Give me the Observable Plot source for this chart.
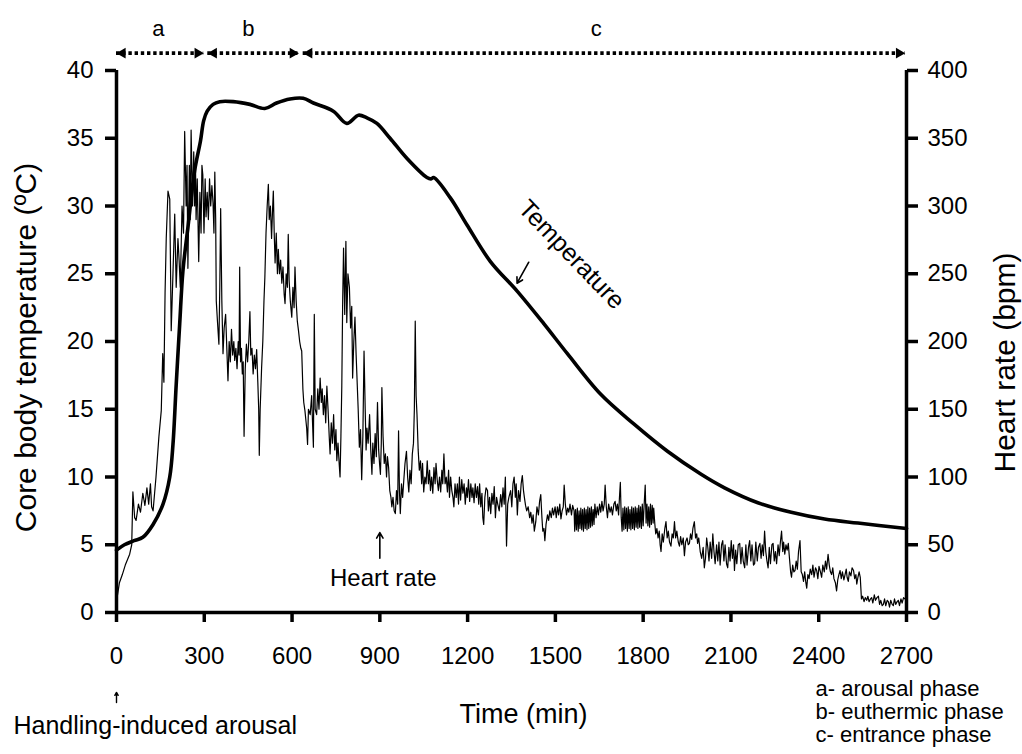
<!DOCTYPE html>
<html>
<head>
<meta charset="utf-8">
<script src="https://cdn.jsdelivr.net/npm/d3@7"></script>
<script src="https://cdn.jsdelivr.net/npm/@observablehq/plot@0.6"></script>
<style>
  html, body { margin: 0; padding: 0; background: #fff; }
  #chart svg { display: block; }
</style>
</head>
<body>
<div id="chart"></div>
<script>
// ---- Data ----
// Core body temperature (°C) vs time (min)
const tempTime = [0, 27, 60, 90, 125, 159, 182, 193, 204, 216, 227, 244, 267, 287, 298, 310, 330, 353, 399, 456, 507, 547, 593, 638, 673, 741, 787, 827, 856, 890, 935, 993, 1061, 1075, 1084, 1141, 1198, 1278, 1370, 1461, 1541, 1655, 1769, 1883, 1998, 2078, 2192, 2306, 2420, 2534, 2700];
const tempC = [4.6, 5.0, 5.3, 5.55, 6.5, 8.0, 10.0, 12.4, 16.8, 21.3, 25.2, 28.4, 32.6, 34.8, 36.3, 37.0, 37.5, 37.7, 37.7, 37.5, 37.2, 37.6, 37.9, 37.95, 37.6, 37.0, 36.1, 36.7, 36.5, 36.1, 35.0, 33.5, 32.1, 32.0, 32.1, 30.6, 28.6, 25.9, 23.7, 21.3, 19.1, 16.1, 13.9, 11.9, 10.2, 9.2, 8.1, 7.4, 6.9, 6.6, 6.2];

// Heart rate (bpm) vs time (min)
const hrTime = [0,10,20,30,45,52,56,62,67,75,82,90,97,104,110,116,120,125,135,145,153,158,162,166,170,176,182,187,193,199,204,210,214,218,224,229,233,238,241,244,249,252,255,260,264,267,270,272,276,281,285,289,292,295,299,303,306,310,314,318,322,326,330,333,336,339,341,345,350,353,356,360,364,368,373,377,381,385,389,393,397,401,404,408,412,416,419,421,424,427,430,433,436,440,444,448,452,456,459,463,467,471,475,479,483,486,488,491,496,500,504,507,511,515,519,522,526,530,533,536,539,542,546,550,553,557,561,565,569,573,576,580,584,587,590,594,599,603,607,610,614,618,622,626,630,633,637,640,644,650,653,656,662,667,670,673,676,679,684,688,692,696,700,703,707,711,715,719,723,727,730,734,738,742,746,750,753,757,761,764,767,770,773,776,780,784,787,791,796,800,804,807,811,815,819,823,826,830,834,838,842,846,850,853,856,860,865,869,873,876,880,884,888,892,896,899,902,905,907,911,915,919,923,926,930,934,938,941,945,949,953,957,961,964,967,970,974,978,982,986,991,995,999,1003,1007,1011,1015,1018,1021,1024,1027,1031,1035,1039,1043,1046,1050,1054,1058,1062,1066,1070,1073,1077,1081,1085,1089,1092,1096,1100,1104,1108,1112,1115,1119,1123,1127,1131,1135,1138,1142,1146,1150,1153,1157,1161,1165,1169,1172,1176,1180,1184,1188,1192,1196,1199,1203,1207,1211,1215,1218,1222,1226,1230,1234,1238,1241,1245,1249,1252,1255,1259,1263,1268,1271,1275,1279,1283,1287,1291,1295,1299,1303,1308,1313,1317,1321,1325,1329,1333,1337,1341,1347,1351,1355,1359,1363,1366,1370,1374,1379,1383,1387,1391,1394,1398,1402,1407,1412,1416,1420,1424,1428,1433,1437,1442,1446,1450,1454,1457,1461,1464,1468,1473,1477,1481,1486,1490,1494,1499,1503,1507,1511,1515,1519,1523,1527,1530,1534,1538,1542,1546,1550,1555,1559,1564,1566,1569,1572,1575,1578,1581,1584,1587,1590,1593,1596,1599,1602,1605,1608,1611,1614,1617,1620,1623,1626,1629,1632,1635,1639,1643,1647,1651,1655,1659,1663,1667,1670,1674,1678,1682,1687,1691,1695,1700,1704,1708,1712,1716,1719,1722,1725,1728,1731,1734,1737,1740,1743,1746,1749,1752,1755,1758,1761,1764,1767,1770,1773,1776,1779,1782,1785,1788,1791,1794,1797,1800,1803,1807,1810,1813,1816,1819,1822,1825,1828,1831,1834,1836,1840,1843,1847,1851,1855,1858,1861,1865,1869,1874,1878,1882,1886,1890,1895,1899,1903,1907,1911,1915,1920,1924,1928,1932,1937,1941,1945,1950,1954,1958,1962,1966,1970,1975,1979,1983,1986,1990,1995,2000,2005,2009,2013,2017,2021,2025,2029,2034,2038,2042,2046,2051,2055,2059,2063,2068,2072,2076,2080,2085,2089,2093,2097,2101,2105,2109,2112,2116,2120,2125,2130,2134,2138,2142,2147,2151,2155,2160,2164,2168,2172,2177,2181,2185,2190,2194,2199,2203,2207,2211,2215,2219,2223,2227,2231,2235,2240,2244,2248,2252,2256,2261,2265,2269,2273,2277,2280,2284,2288,2292,2296,2300,2304,2307,2311,2315,2319,2323,2327,2331,2336,2340,2344,2348,2352,2356,2359,2363,2367,2371,2376,2380,2384,2389,2393,2397,2401,2406,2410,2414,2419,2423,2427,2432,2436,2440,2444,2448,2452,2457,2461,2465,2469,2473,2477,2481,2486,2490,2494,2497,2501,2505,2510,2514,2519,2523,2527,2530,2534,2538,2542,2544,2546,2550,2555,2559,2564,2568,2572,2577,2581,2585,2590,2594,2599,2604,2608,2612,2617,2621,2625,2629,2634,2638,2642,2646,2651,2655,2659,2663,2668,2672,2676,2681,2685,2690,2695,2700];
const hrBpm = [8,22,28,35,43,50,89,70,68,80,74,88,79,92,80,95,78,75,100,130,149,191,170,236,276,311,305,208,250,294,240,276,260,240,300,280,355,300,330,254,330,290,356,300,340,300,330,290,320,259,310,280,330,323,280,320,292,310,290,320,300,315,302,280,325,290,230,215,198,240,298,230,191,210,220,195,171,200,185,209,190,200,186,195,180,200,190,255,185,195,176,185,130,180,198,185,200,222,190,195,176,190,180,194,170,150,116,150,181,200,230,247,280,300,316,290,300,276,295,311,280,258,280,250,268,250,260,243,255,235,228,250,240,279,245,230,218,240,225,255,230,215,208,200,195,193,165,155,149,136,124,150,146,160,140,122,220,150,146,165,150,173,155,165,146,160,140,167,150,130,117,140,125,146,120,135,112,125,110,100,130,167,230,269,220,274,214,250,240,210,226,173,200,218,190,167,150,122,135,98,130,193,150,120,136,125,146,120,102,125,110,132,115,155,120,110,102,125,166,130,110,117,100,115,107,90,85,78,85,75,73,90,80,134,90,73,95,85,98,110,119,100,89,105,95,117,125,150,215,160,146,120,105,112,95,110,89,100,95,112,95,105,90,100,88,107,95,110,98,90,100,89,105,95,117,95,100,89,105,85,100,90,85,78,95,85,95,80,100,83,98,88,95,80,92,85,98,82,95,85,92,81,95,85,93,80,95,78,88,70,65,85,92,90,75,85,73,88,80,93,70,85,80,75,87,78,92,80,100,49,80,85,90,78,95,100,85,95,72,90,82,95,101,90,85,79,75,78,70,74,66,72,60,67,78,72,82,87,70,60,62,53,65,72,68,75,70,77,72,78,70,78,72,80,69,75,78,94,80,72,77,74,80,72,79,75,60,76,61,77,60,75,62,77,61,76,60,77,62,76,61,78,62,77,63,78,64,76,65,80,70,78,72,80,74,82,75,80,94,78,70,80,74,78,72,80,82,75,80,72,85,96,70,60,77,61,78,62,77,60,78,62,76,61,78,62,77,61,78,63,77,62,79,63,78,62,80,64,78,94,66,80,64,78,63,80,65,79,66,77,65,58,62,55,60,50,45,58,52,62,67,55,60,52,49,58,55,67,55,60,52,49,56,50,55,42,52,55,50,51,58,54,62,67,55,58,51,55,45,40,48,33,40,55,48,38,52,40,58,45,36,50,38,52,35,50,53,38,50,36,33,48,38,53,40,50,31,46,36,50,51,36,48,38,33,50,35,48,53,38,50,35,36,52,38,48,51,40,50,42,60,45,38,33,48,36,50,51,38,45,36,50,42,52,60,45,52,43,50,46,51,40,30,26,35,30,31,38,32,45,53,30,28,23,30,22,18,28,25,32,28,35,26,33,31,25,34,30,26,35,30,38,32,43,35,30,28,33,25,22,16,24,28,31,25,30,24,28,32,26,23,30,27,33,31,25,28,21,26,30,26,18,10,12,8,11,9,12,8,10,11,7,13,9,11,12,6,9,5,6,10,5,9,8,4,9,6,5,10,6,8,9,5,10,7,11,10,12];

// Phases (a, b, c) shown as dotted double arrows above the plot
const phaseName = ["a", "b", "c"];
const phaseStart = [0, 312, 638];
const phaseEnd = [298, 623, 2695];
const phaseLabelX = [143, 451, 1640];

// Axis ticks
const xTicks = [0, 300, 600, 900, 1200, 1500, 1800, 2100, 2400, 2700];
const yTicks = [0, 5, 10, 15, 20, 25, 30, 35, 40];   // °C (right axis = ×10 bpm)

const legendLines = ["a- arousal phase", "b- euthermic phase", "c- entrance phase"];

// ---- Build tables ----
const temp = tempTime.map((t, i) => ({t, c: tempC[i]}));
const hr = hrTime.map((t, i) => ({t, bpm: hrBpm[i]}));
const phases = phaseName.map((name, i) => ({name, start: phaseStart[i], end: phaseEnd[i], lx: phaseLabelX[i]}));

const FONT = "'Liberation Sans', Arial, Helvetica, sans-serif";

const chart = Plot.plot({
  width: 1022,
  height: 754,
  marginLeft: 116,
  marginRight: 116,
  marginTop: 70,
  marginBottom: 142,
  style: {fontFamily: FONT, color: "black", background: "white", overflow: "visible"},
  x: {domain: [0, 2700]},
  y: {domain: [0, 40]},
  marks: [
    // heart rate (plotted on the °C scale: bpm / 10)
    Plot.line(hr, {x: "t", y: d => d.bpm / 10, stroke: "black", strokeWidth: 1.2}),
    // temperature
    Plot.line(temp, {x: "t", y: "c", stroke: "black", strokeWidth: 3.6, curve: "catmull-rom"}),

    // axes
    Plot.axisX({ticks: xTicks, tickFormat: d => String(d), tickSize: 10, tickPadding: 24, fontSize: 24, strokeWidth: 3.5, label: null}),
    Plot.axisY({anchor: "left", ticks: yTicks, tickFormat: d => String(d), tickSize: 11, tickPadding: 12, fontSize: 24, strokeWidth: 3.5, label: null}),
    Plot.axisY({anchor: "right", ticks: yTicks, tickFormat: d => String(d * 10), tickSize: 11, tickPadding: 10, fontSize: 24, strokeWidth: 3.5, label: null}),
    Plot.ruleX([0, 2700], {y1: 0, y2: 40, strokeWidth: 3.5}),
    Plot.ruleY([0], {x1: 0, x2: 2700, strokeWidth: 3.5}),

    // axis titles
    Plot.text(["Core body temperature (ºC)"], {frameAnchor: "left", textAnchor: "middle", dx: -90, dy: 6, rotate: -90, fontSize: 30}),
    Plot.text(["Heart rate (bpm)"], {frameAnchor: "right", textAnchor: "middle", dx: 99, dy: 21, rotate: -90, fontSize: 30}),
    Plot.text(["Time (min)"], {frameAnchor: "bottom", textAnchor: "middle", dx: 12, dy: 110, fontSize: 27}),

    // phase arrows
    Plot.ruleY(phases, {y: 41.28, x1: "start", x2: "end", strokeWidth: 3.6, strokeDasharray: "3.4,2.8"}),
    Plot.dot(phases, {x: "end", y: 41.28, symbol: "triangle", r: 4, rotate: 90, dx: -6, fill: "black", stroke: "none"}),
    Plot.dot(phases, {x: "start", y: 41.28, symbol: "triangle", r: 4, rotate: -90, dx: 6, fill: "black", stroke: "none"}),
    Plot.text(phases, {x: "lx", y: 43.1, text: "name", fontSize: 22}),

    // annotations
    Plot.text(["Temperature"], {x: 1555, y: 26.4, rotate: 46, fontSize: 25}),
    Plot.arrow([0], {x1: 1409, y1: 25.85, x2: 1369, y2: 24.3, strokeWidth: 1.6, headLength: 6, stroke: "black"}),
    Plot.text(["Heart rate"], {x: 912, y: 2.5, fontSize: 24}),
    Plot.arrow([0], {x1: 900, y1: 4.0, x2: 900, y2: 5.9, strokeWidth: 1.6, headLength: 6, stroke: "black"}),
    Plot.arrow([0], {x1: 0, y1: -6.64, x2: 0, y2: -5.9, strokeWidth: 1.4, headLength: 4, stroke: "black"}),
    Plot.text(["Handling-induced arousal"], {frameAnchor: "bottom-left", dx: -103, dy: 121, textAnchor: "start", fontSize: 25}),
    Plot.text([legendLines.join("\n")], {frameAnchor: "bottom-right", dx: -91, dy: 129, textAnchor: "start", lineAnchor: "bottom", lineHeight: 1.04, fontSize: 22})
  ]
});

document.getElementById("chart").appendChild(chart);
</script>
</body>
</html>
